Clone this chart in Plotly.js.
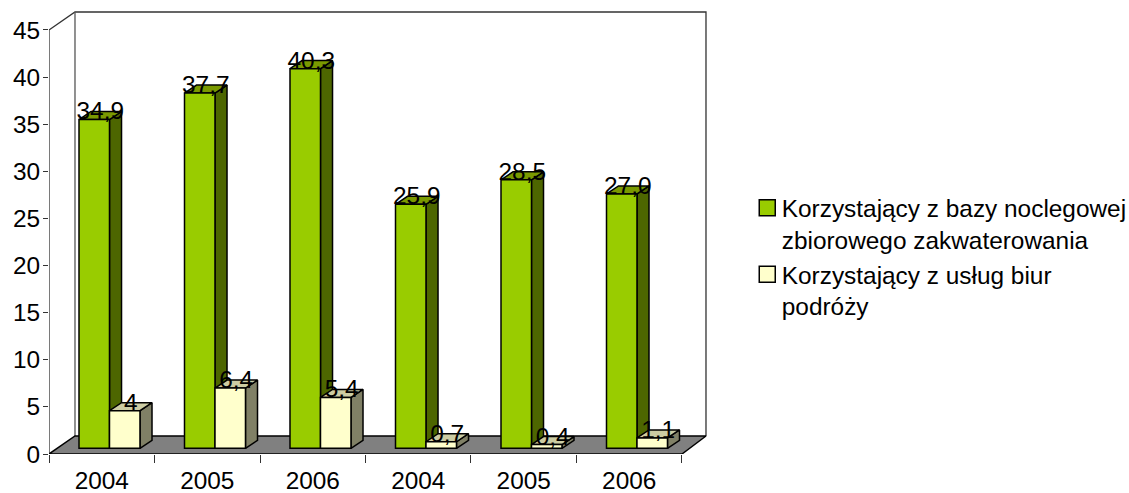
<!DOCTYPE html>
<html><head><meta charset="utf-8">
<script src="https://cdn.plot.ly/plotly-3.0.1.min.js"></script>
<style>html,body{margin:0;padding:0;background:#fff}</style></head>
<body><div id="c" style="width:1129px;height:493px"></div>
<script>
const positions = [0,1,2,3,4,5];
const years = ["2004","2005","2006","2004","2005","2006"];
const boundaries = [-0.5,0.5,1.5,2.5,3.5,4.5,5.5];
const nameGreen = "Korzystający z bazy noclegowej<br>zbiorowego zakwaterowania";
const nameYellow = "Korzystający z usług biur<br>podróży";
const greenValues = [34.9,37.7,40.3,25.9,28.5,27.0];
const yellowValues = [4,6.4,5.4,0.7,0.4,1.1];
const greenLabels = ["34,9","37,7","40,3","25,9","28,5","27,0"];
const yellowLabels = ["4","6,4","5,4","0,7","0,4","1,1"];
const yTicks = [0,5,10,15,20,25,30,35,40,45];

// 3D projection parameters (data units)
const wallDxL = 0.2464, wallDxR = 0.2275, wallDy = 1.91;
const barW = 0.289, barDx = 0.114, barDy = 0.85, baseY = 0.6;
const greenStart = -0.2156, yellowStart = greenStart + barW;
const xMax = 5.756, yMax = 47.122;
const font = "Liberation Sans, Arial, sans-serif";
const fontSize = 24.4;
const ink = "#000";

function faces(values, start){
  const side={x:[],y:[]}, top={x:[],y:[]};
  values.forEach((v,i)=>{
    const l=positions[i]+start, r=l+barW, t=baseY+v;
    side.x.push(r,r+barDx,r+barDx,r,r,null);
    side.y.push(baseY,baseY+barDy,t+barDy,t,baseY,null);
    top.x.push(l,l+barDx,r+barDx,r,l,null);
    top.y.push(t,t+barDy,t+barDy,t,t,null);
  });
  return {side,top};
}
function poly(p,color,z){
  return {type:'scatter',mode:'lines',x:p.x,y:p.y,fill:'toself',fillcolor:color,
    line:{color:ink,width:1.5},hoverinfo:'skip',showlegend:false,zorder:z};
}
function front(values,start,color,z){
  return {type:'bar',x:positions,y:values,base:values.map(()=>baseY),width:barW,
    offset:start,marker:{color:color,line:{color:ink,width:1.5}},
    hoverinfo:'skip',showlegend:false,zorder:z};
}
function labels(values,start,text){
  return {type:'scatter',mode:'text',x:positions.map(p=>p+start+barW/2+barDx/2),
    y:values.map(v=>v+baseY+barDy-0.2),text:text,textposition:'middle center',
    textfont:{family:font,size:fontSize,color:ink},hoverinfo:'skip',showlegend:false,zorder:6,cliponaxis:false};
}
function key(name,color){
  return {type:'scatter',mode:'markers',x:[null],y:[null],name:name,
    marker:{symbol:'square',size:16,color:color,line:{color:ink,width:1.5}}};
}
const g=faces(greenValues,greenStart), y=faces(yellowValues,yellowStart);
const x0=-0.5,x1=5.5,wallL=x0+wallDxL,wallR=x1+wallDxR;
function frameLine(xs,ys,color,width){
  return {type:'scatter',mode:'lines',x:xs,y:ys,line:{color:color,width:width},
    hoverinfo:'skip',showlegend:false,cliponaxis:false,zorder:0};
}
const traces=[
  frameLine([x0,x0,wallL,wallR,wallR],[0,45,45+wallDy,45+wallDy,wallDy],'#333',1.3),
  frameLine([wallL,wallL],[wallDy,45+wallDy],'#555',1.3),
  frameLine([x0,x1,wallR,wallL,x0],[0,0,wallDy,wallDy,0],ink,1.5),
  poly(g.side,'#4D6600',1),poly(g.top,'#7A9900',1),front(greenValues,greenStart,'#99CC00',2),
  poly(y.side,'#808066',3),poly(y.top,'#CCCCA3',3),front(yellowValues,yellowStart,'#FFFFCC',4),
  labels(greenValues,greenStart,greenLabels),labels(yellowValues,yellowStart,yellowLabels),
  key(nameGreen,'#99CC00'),key(nameYellow,'#FFFFCC')
];
const frame=[
  {type:'path',xref:'x',yref:'y',layer:'below',fillcolor:'#808080',line:{width:0},
   path:`M${x0},0 L${wallL},${wallDy} L${wallR},${wallDy} L${x1},0 Z`}
];
const layout={
  width:1129,height:493,paper_bgcolor:'#fff',plot_bgcolor:'#fff',
  margin:{l:49,r:420,t:10,b:39,pad:0},
  barmode:'overlay',
  font:{family:font,size:fontSize,color:ink},
  xaxis:{range:[x0,xMax],tickmode:'array',tickvals:positions,ticktext:years,ticks:'',
    showgrid:false,zeroline:false,showline:false,ticklabelstandoff:10,automargin:false,
    minor:{tickmode:'array',tickvals:boundaries,ticks:'outside',ticklen:8,tickwidth:1,tickcolor:'#333',showgrid:false},
    tickfont:{family:font,size:fontSize,color:ink}},
  yaxis:{range:[0,yMax],tickmode:'array',tickvals:yTicks,ticks:'outside',ticklen:5,tickwidth:1,tickcolor:'#333',
    showgrid:false,zeroline:false,showline:false,automargin:false,ticklabelstandoff:-2,
    tickfont:{family:font,size:fontSize,color:ink}},
  showlegend:true,
  legend:{xref:'container',yref:'container',x:0.657,xanchor:'left',y:0.624,yanchor:'top',itemsizing:'trace',valign:'top',itemclick:false,itemdoubleclick:false,
    font:{family:font,size:fontSize,color:ink},bgcolor:'rgba(0,0,0,0)',borderwidth:0},
  shapes:frame
};
Plotly.newPlot('c',traces,layout,{staticPlot:true,displayModeBar:false}).then(()=>{
  document.querySelectorAll('.legend .legendsymbols').forEach(n=>n.setAttribute('transform','translate(5.5,0)'));
});
</script></body></html>
